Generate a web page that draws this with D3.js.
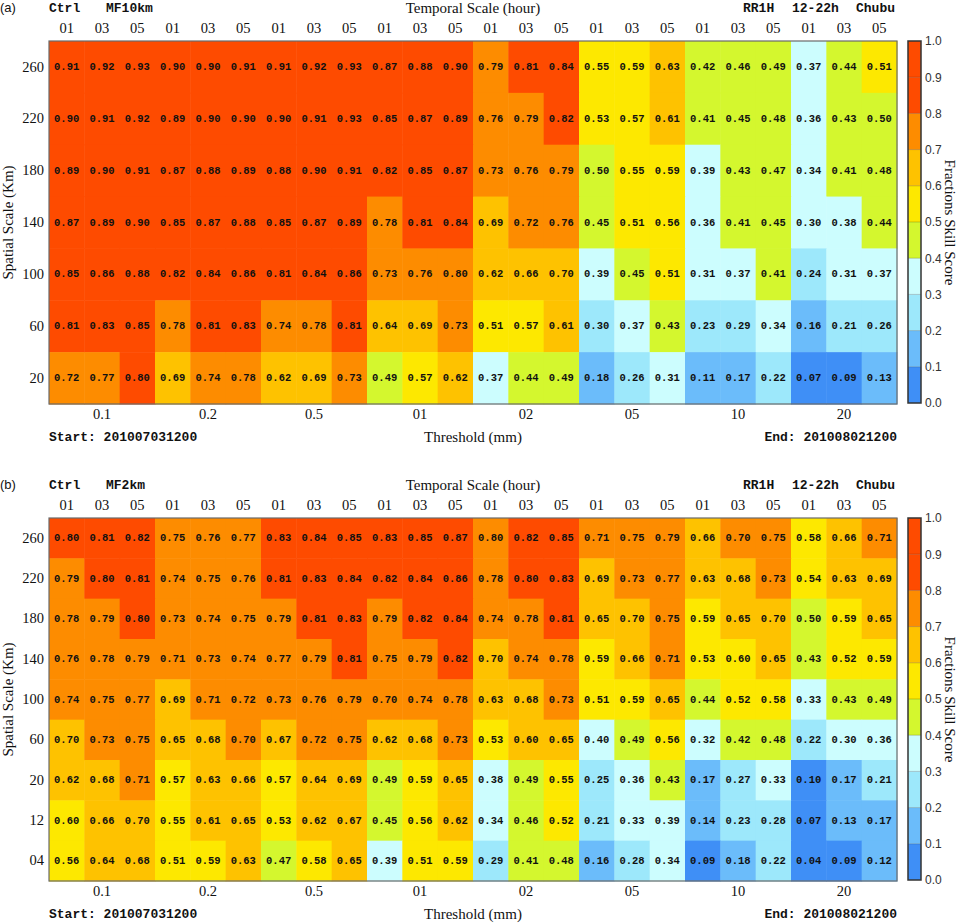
<!DOCTYPE html>
<html>
<head>
<meta charset="utf-8">
<script src="https://cdn.jsdelivr.net/npm/d3@7"></script>
<style>
  body { margin: 0; background: #fff; }
  svg text { fill: #111; }
</style>
</head>
<body>
<svg id="chart" width="962" height="924"></svg>
<script>
// threshold groups (mm) and temporal scales (hour)
const thresholds = ["0.1", "0.2", "0.5", "01", "02", "05", "10", "20"];
const temporal = ["01", "03", "05"];

const spatialA = ["260", "220", "180", "140", "100", "60", "20"];
const spatialB = ["260", "220", "180", "140", "100", "60", "20", "12", "04"];

// FSS values, one row per spatial scale (top to bottom), 24 columns
const fssA = [
  [0.91, 0.92, 0.93, 0.90, 0.90, 0.91, 0.91, 0.92, 0.93, 0.87, 0.88, 0.90, 0.79, 0.81, 0.84, 0.55, 0.59, 0.63, 0.42, 0.46, 0.49, 0.37, 0.44, 0.51],
  [0.90, 0.91, 0.92, 0.89, 0.90, 0.90, 0.90, 0.91, 0.93, 0.85, 0.87, 0.89, 0.76, 0.79, 0.82, 0.53, 0.57, 0.61, 0.41, 0.45, 0.48, 0.36, 0.43, 0.497],
  [0.89, 0.90, 0.91, 0.87, 0.88, 0.89, 0.88, 0.90, 0.91, 0.82, 0.85, 0.87, 0.73, 0.76, 0.79, 0.497, 0.55, 0.59, 0.39, 0.43, 0.47, 0.34, 0.41, 0.48],
  [0.87, 0.89, 0.90, 0.85, 0.87, 0.88, 0.85, 0.87, 0.89, 0.78, 0.81, 0.84, 0.69, 0.72, 0.76, 0.45, 0.51, 0.56, 0.36, 0.41, 0.45, 0.30, 0.38, 0.44],
  [0.85, 0.86, 0.88, 0.82, 0.84, 0.86, 0.81, 0.84, 0.86, 0.73, 0.76, 0.798, 0.62, 0.66, 0.698, 0.39, 0.45, 0.51, 0.31, 0.37, 0.41, 0.24, 0.31, 0.37],
  [0.81, 0.83, 0.85, 0.78, 0.81, 0.83, 0.74, 0.78, 0.81, 0.64, 0.69, 0.73, 0.51, 0.57, 0.61, 0.298, 0.37, 0.43, 0.23, 0.29, 0.34, 0.16, 0.21, 0.26],
  [0.72, 0.77, 0.802, 0.69, 0.74, 0.78, 0.62, 0.69, 0.73, 0.49, 0.57, 0.62, 0.37, 0.44, 0.49, 0.18, 0.26, 0.31, 0.11, 0.17, 0.22, 0.07, 0.09, 0.13]
];

const fssB = [
  [0.802, 0.81, 0.82, 0.75, 0.76, 0.77, 0.83, 0.84, 0.85, 0.83, 0.85, 0.87, 0.798, 0.82, 0.85, 0.71, 0.75, 0.79, 0.66, 0.70, 0.75, 0.58, 0.66, 0.71],
  [0.79, 0.802, 0.81, 0.74, 0.75, 0.76, 0.81, 0.83, 0.84, 0.82, 0.84, 0.86, 0.78, 0.802, 0.83, 0.69, 0.73, 0.77, 0.63, 0.68, 0.73, 0.54, 0.63, 0.69],
  [0.78, 0.79, 0.802, 0.73, 0.74, 0.75, 0.79, 0.81, 0.83, 0.79, 0.82, 0.84, 0.74, 0.78, 0.81, 0.65, 0.698, 0.75, 0.59, 0.65, 0.698, 0.497, 0.59, 0.65],
  [0.76, 0.78, 0.79, 0.71, 0.73, 0.74, 0.77, 0.79, 0.81, 0.75, 0.79, 0.82, 0.698, 0.74, 0.78, 0.59, 0.66, 0.71, 0.53, 0.598, 0.65, 0.43, 0.52, 0.59],
  [0.74, 0.75, 0.77, 0.69, 0.71, 0.72, 0.73, 0.76, 0.79, 0.70, 0.74, 0.78, 0.63, 0.68, 0.73, 0.51, 0.59, 0.65, 0.44, 0.52, 0.58, 0.33, 0.43, 0.49],
  [0.698, 0.73, 0.75, 0.65, 0.68, 0.70, 0.67, 0.72, 0.75, 0.62, 0.68, 0.73, 0.53, 0.60, 0.65, 0.398, 0.49, 0.56, 0.32, 0.42, 0.48, 0.22, 0.30, 0.36],
  [0.62, 0.68, 0.71, 0.57, 0.63, 0.66, 0.57, 0.64, 0.69, 0.49, 0.59, 0.65, 0.38, 0.49, 0.55, 0.25, 0.36, 0.43, 0.17, 0.27, 0.33, 0.098, 0.17, 0.21],
  [0.598, 0.66, 0.698, 0.55, 0.61, 0.65, 0.53, 0.62, 0.67, 0.45, 0.56, 0.62, 0.34, 0.46, 0.52, 0.21, 0.33, 0.39, 0.14, 0.23, 0.28, 0.07, 0.13, 0.17],
  [0.56, 0.64, 0.68, 0.51, 0.59, 0.63, 0.47, 0.58, 0.65, 0.39, 0.51, 0.59, 0.29, 0.41, 0.48, 0.16, 0.28, 0.34, 0.09, 0.18, 0.22, 0.04, 0.09, 0.12]
];

// colour bins (0.8-1.0 share one colour)
const binEdges = [0.1, 0.2, 0.3, 0.4, 0.5, 0.6, 0.7, 0.8];
const binColors = ["#3f8ff6", "#6bbcfa", "#9de8fb", "#ccfdfe", "#d4f72e", "#fde800", "#fec200", "#fd8c00", "#fe4b00"];
const cbEdges = [0, 0.1, 0.2, 0.3, 0.4, 0.5, 0.6, 0.7, 0.8, 0.9, 1.0];

const svg = d3.select("#chart");
const color = d3.scaleThreshold().domain(binEdges).range(binColors);

const left = 49, right = 897, plotH = 363;
const serif = "'Liberation Serif', 'DejaVu Serif', serif";
const mono = "'Liberation Mono', 'DejaVu Sans Mono', monospace";
const sans = "'Liberation Sans', Arial, sans-serif";

function drawPanel(off, tag, model, rows, data) {
  const top = 41 + off;
  const g = svg.append("g");

  const cols = d3.range(thresholds.length * temporal.length);
  const x = d3.scaleBand().domain(cols).range([left, right]);
  const y = d3.scaleBand().domain(rows).range([top, top + plotH]);
  const xg = d3.scaleBand().domain(thresholds).range([left, right]);

  // cells
  const rowG = g.selectAll("g.row").data(data).join("g")
    .attr("class", "row");
  rowG.selectAll("rect").data((d, i) => d.map((v, j) => ({ v, j, r: rows[i] })))
    .join("rect")
    .attr("x", d => x(d.j))
    .attr("y", d => y(d.r))
    .attr("width", x.bandwidth() + 0.5)
    .attr("height", y.bandwidth() + 0.5)
    .attr("fill", d => color(d.v));
  rowG.selectAll("text").data((d, i) => d.map((v, j) => ({ v, j, r: rows[i] })))
    .join("text")
    .attr("x", d => x(d.j) + x.bandwidth() / 2)
    .attr("y", d => y(d.r) + y.bandwidth() / 2)
    .attr("text-anchor", "middle")
    .attr("dominant-baseline", "central")
    .style("font-family", mono)
    .style("font-weight", "bold")
    .style("font-size", "10.5px")
    .text(d => d.v.toFixed(2));

  g.append("rect")
    .attr("x", left).attr("y", top)
    .attr("width", right - left).attr("height", plotH)
    .attr("fill", "none").attr("stroke", "#6a6a6a").attr("stroke-width", 1.2);

  // temporal scale labels on top
  const topAxis = g.append("g")
    .attr("transform", `translate(0,${top - 8})`)
    .call(d3.axisTop(x).tickSize(0).tickPadding(0).tickFormat(i => temporal[i % temporal.length]));
  topAxis.select(".domain").remove();
  topAxis.selectAll("text").style("font-family", serif).style("font-size", "14.5px");

  // spatial scale labels
  const leftAxis = g.append("g")
    .attr("transform", `translate(${left - 5},0)`)
    .call(d3.axisLeft(y).tickSize(0).tickPadding(0));
  leftAxis.select(".domain").remove();
  leftAxis.selectAll("text").style("font-family", serif).style("font-size", "14.5px");

  // threshold labels
  const botAxis = g.append("g")
    .attr("transform", `translate(0,${top + plotH + 5})`)
    .call(d3.axisBottom(xg).tickSize(0).tickPadding(0));
  botAxis.select(".domain").remove();
  botAxis.selectAll("text").style("font-family", serif).style("font-size", "14.5px");

  // header
  g.append("text").attr("x", 0).attr("y", 12 + off)
    .style("font-family", sans).style("font-size", "13px").text(tag);
  const hdr = [["Ctrl", left], [model, 106], ["RR1H", 743], ["12-22h", 792], ["Chubu", 856]];
  g.selectAll("text.hdr").data(hdr).join("text")
    .attr("class", "hdr")
    .attr("x", d => d[1]).attr("y", 12 + off)
    .style("font-family", mono).style("font-weight", "bold").style("font-size", "13px")
    .text(d => d[0]);
  g.append("text").attr("x", 473).attr("y", 13 + off).attr("text-anchor", "middle")
    .style("font-family", serif).style("font-size", "15px").text("Temporal Scale (hour)");

  // footer
  g.append("text").attr("x", left).attr("y", 441 + off)
    .style("font-family", mono).style("font-weight", "bold").style("font-size", "13px")
    .text("Start: 201007031200");
  g.append("text").attr("x", right).attr("y", 441 + off).attr("text-anchor", "end")
    .style("font-family", mono).style("font-weight", "bold").style("font-size", "13px")
    .text("End: 201008021200");
  g.append("text").attr("x", 473).attr("y", 442 + off).attr("text-anchor", "middle")
    .style("font-family", serif).style("font-size", "15px").text("Threshold (mm)");

  // y title
  g.append("text")
    .attr("transform", `translate(13,${top + plotH / 2}) rotate(-90)`)
    .attr("text-anchor", "middle")
    .style("font-family", serif).style("font-size", "15px")
    .text("Spatial Scale (Km)");

  // colour bar
  const cbX = 908, cbW = 13;
  const cy = d3.scaleLinear().domain([0, 1]).range([top + plotH - 1, top]);
  const segs = d3.pairs(cbEdges);
  g.selectAll("rect.cb").data(segs).join("rect")
    .attr("class", "cb")
    .attr("x", cbX).attr("width", cbW)
    .attr("y", d => cy(d[1]))
    .attr("height", d => cy(d[0]) - cy(d[1]))
    .attr("fill", d => color(d[0] + 0.05));
  g.selectAll("line.cb").data(cbEdges.slice(1, -1)).join("line")
    .attr("class", "cb")
    .attr("x1", cbX).attr("x2", cbX + cbW)
    .attr("y1", d => cy(d)).attr("y2", d => cy(d))
    .attr("stroke", "#000").attr("stroke-opacity", 0.2).attr("stroke-width", 1);
  g.append("rect")
    .attr("x", cbX).attr("y", cy(1)).attr("width", cbW).attr("height", cy(0) - cy(1))
    .attr("fill", "none").attr("stroke", "#333").attr("stroke-width", 1.5);
  const cbAxis = g.append("g")
    .attr("transform", `translate(${cbX + cbW},0)`)
    .call(d3.axisRight(cy).tickValues(cbEdges).tickSize(0).tickPadding(4).tickFormat(d3.format(".1f")));
  cbAxis.select(".domain").remove();
  cbAxis.selectAll("text").style("font-family", sans).style("font-size", "12px").style("fill", "#333");

  g.append("text")
    .attr("transform", `translate(945,${top + plotH / 2}) rotate(90)`)
    .attr("text-anchor", "middle")
    .style("font-family", serif).style("font-size", "15px")
    .text("Fractions Skill Score");
}

drawPanel(0, "(a)", "MF10km", spatialA, fssA);
drawPanel(477, "(b)", "MF2km", spatialB, fssB);
</script>
</body>
</html>
